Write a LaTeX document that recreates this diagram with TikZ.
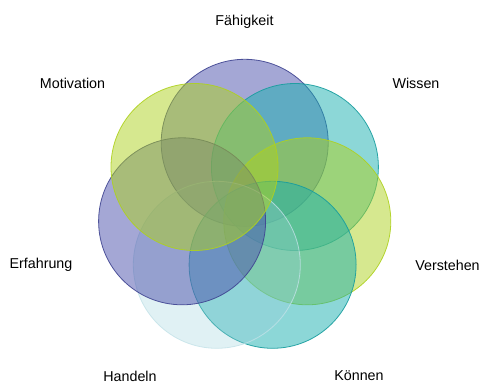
\documentclass[tikz,border=0pt]{standalone}
\usepackage{fontspec}
\setmainfont{Liberation Sans}
\definecolor{violet}{HTML}{4A50AB}
\definecolor{teal}{HTML}{1AAFB0}
\definecolor{lime}{HTML}{AED11F}
\definecolor{ice}{HTML}{9ACFD9}
\begin{document}
\begin{tikzpicture}[
    x=1pt, y=-1pt,
    ring/.style={circle, minimum size=167pt, inner sep=0pt, line width=0.8pt},
    violetring/.style={ring, draw=violet!85!black, fill=violet, fill opacity=0.5, draw opacity=0.9},
    tealring/.style={ring, draw=teal!90!black, fill=teal, fill opacity=0.5, draw opacity=0.9},
    limering/.style={ring, draw=lime, fill=lime, fill opacity=0.5, draw opacity=0.9},
    icering/.style={ring, draw=ice!60, fill=ice, fill opacity=0.3, draw opacity=0.8},
    word/.style={font=\fontsize{14.3}{17}\selectfont, text=black}
]
    \useasboundingbox (0,0) rectangle (482,383);
    % circles, clockwise from the top
    \node[violetring] (faehigkeit) at (244.7, 142.8) {};
    \node[tealring]   (wissen)     at (294.9, 167.0) {};
    \node[limering]   (verstehen)  at (307.3, 221.3) {};
    \node[tealring]   (koennen)    at (272.6, 264.8) {};
    \node[icering]    (handeln)    at (216.8, 264.8) {};
    \node[violetring] (erfahrung)  at (182.1, 221.3) {};
    \node[limering]   (motivation) at (194.5, 167.0) {};
    % labels
    \node[word] (lfaehigkeit) at (244.5, 21.5) {Fähigkeit};
    \node[word] (lwissen)     at (416, 83) {Wissen};
    \node[word] (lverstehen)  at (447.5, 265) {Verstehen};
    \node[word] (lkoennen)    at (359, 376) {Können};
    \node[word] (lhandeln)    at (130, 376) {Handeln};
    \node[word] (lerfahrung)  at (41, 265) {Erfahrung};
    \node[word] (lmotivation) at (72.5, 83) {Motivation};
\end{tikzpicture}
\end{document}
